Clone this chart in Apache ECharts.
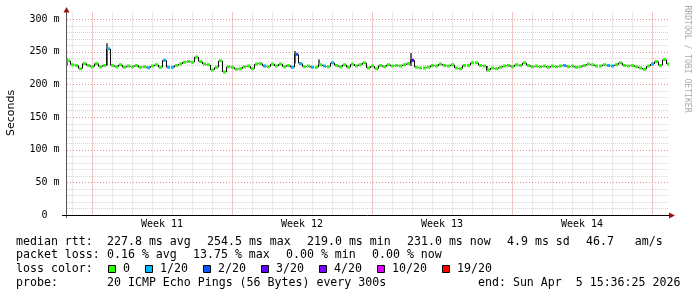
<!DOCTYPE html>
<html><head><meta charset="utf-8">
<script src="https://cdn.jsdelivr.net/npm/echarts@6/dist/echarts.min.js"></script>
<style>html,body{margin:0;padding:0;background:#fff}#c{width:697px;height:297px}</style>
</head><body><div id="c"></div>
<script>
// ---- data ----
const weekLabels = ['Week 11', 'Week 12', 'Week 13', 'Week 14'];
const weekCenters = [3.5, 10.5, 17.5, 24.5];   // days from Monday of week 11
const yTicks = [0, 50, 100, 150, 200, 250, 300];
const startDay = -1.3, stepDays = 0.2;
const medianMs = [
  236,230,229,224,232,229,227,232,227,229,
  254.5,229,227,230,226,228,227,229,226,227,
  225.5,228,230,226,237,226,226,229,231,234,
  235,234,242,235,231,230,222,226,236,219,
  227,226,223,224,227,228,224,231,232,228,
  227,231,228,231,227,229,226,246,232,227,
  228,226,226,230,228,227,233,229,227,230,
  226,231,228,230,233,225,228,224,229,227,
  230,228,229,228,230,232,237,226,225,225,
  226,229,228,231,229,228,230,225,224,229,
  229,233,233,229,228,222,225,224,226,228,
  229,227,230,229,233,229,227,228,227,228,
  226,228,227,228,229,227,228,226,227,229,
  231,230,228,228,230,229,228,230,233,229,
  228,229,227,225,223,228,231,235,229,238,
  231
];
const lossIdx = [10, 20, 24, 25, 26, 49, 56, 57, 58, 61, 64, 66, 86, 124, 135, 136, 146];
const lossVal = [1, 1, 1, 1, 1, 1, 1, 2, 1, 1, 1, 1, 3, 1, 1, 1, 1];
const smokeIdx = [0, 10, 57, 63, 86, 105];
const smokeLo = [229, 229, 232, 228, 228, 220];
const smokeHi = [240, 263, 251, 238, 248, 228];
const lossLegend = ['0', '1/20', '2/20', '3/20', '4/20', '10/20', '19/20'];
const lossLegendCount = [0, 1, 2, 3, 4, 10, 19];
const lossColors = ['#26ff00', '#00b8ff', '#0059ff', '#5e00ff', '#7e00ff', '#dd00ff', '#ff0000'];
const statsRow1 = ['median rtt:', '227.8 ms avg', '254.5 ms max', '219.0 ms min', '231.0 ms now', '4.9 ms sd', '46.7   am/s'];
const statsRow2 = ['packet loss:', '0.16 % avg', '13.75 % max', '0.00 % min', '0.00 % now'];
const probeText = ['probe:', '20 ICMP Echo Pings (56 Bytes) every 300s', 'end: Sun Apr  5 15:36:25 2026'];

// ---- build ----
function lossColor(n) {
  let c = lossColors[0];
  for (let k = 0; k < lossLegendCount.length; k++) if (n >= lossLegendCount[k]) c = lossColors[k];
  return c;
}
const loss = medianMs.map(() => 0);
lossIdx.forEach((ix, k) => { loss[ix] = lossVal[k]; });
const times = medianMs.map((_, i) => startDay + i * stepDays);
const medianData = medianMs.map((v, i) => [times[i], v, loss[i]]);
const stepData = medianMs.map((v, i) => [times[i], v, i > 0 ? medianMs[i - 1] : v]);
const smokeData = smokeIdx.map((ix, k) => [times[ix], smokeLo[k], smokeHi[k]]);

const gridData = [];
for (let d = -1; d <= 28; d++) if (d % 7 !== 0) gridData.push([0, d]);
for (let v = 10; v <= 300; v += 10) if (v % 50 !== 0) gridData.push([2, v]);
for (let d = 0; d <= 28; d += 7) gridData.push([1, d]);
for (let v = 50; v <= 300; v += 50) gridData.push([3, v]);

const MONO = '"DejaVu Sans Mono", monospace';
const minorColor = '#d4d4d4';
const majorColor = '#e09090';

const chart = echarts.init(document.getElementById('c'), null, { renderer: 'canvas' });

const graphics = [];
function txt(x, y, s, extra) {
  graphics.push(Object.assign({ type: 'text', x: x, y: y, silent: true,
    style: { text: s, font: '11.6px ' + MONO, fill: '#000', verticalAlign: 'middle' } }, extra || {}));
}
const r1x = [16, 107, 207, 307, 407, 507, 586];
statsRow1.forEach((s, k) => txt(r1x[k], 241.5, s));
const r2x = [16, 107, 193, 286, 372];
statsRow2.forEach((s, k) => txt(r2x[k], 255.3, s));
txt(16, 269, 'loss color:');
let lx = 108;
lossLegend.forEach((s, k) => {
  graphics.push({ type: 'rect', silent: true, shape: { x: lx + 0.5, y: 265.5, width: 7, height: 7 },
    style: { fill: lossColors[k], stroke: '#000', lineWidth: 1 } });
  txt(lx + 15, 269, s);
  lx += 15 + s.length * 7 + 15;
});
txt(16, 282.8, probeText[0]);
txt(107, 282.8, probeText[1]);
txt(478, 282.8, probeText[2]);
graphics.push({ type: 'text', x: 11, y: 113, rotation: Math.PI / 2, silent: true,
  style: { text: 'Seconds', font: '11px "DejaVu Sans", sans-serif', fill: '#000', align: 'center', verticalAlign: 'middle' } });
graphics.push({ type: 'text', x: 687, y: 59, rotation: -Math.PI / 2, silent: true,
  style: { text: 'RRDTOOL / TOBI OETIKER', font: '8.1px ' + MONO, fill: '#aaaaaa', align: 'center', verticalAlign: 'middle' } });
graphics.push({ type: 'line', silent: true, shape: { x1: 66.5, y1: 215, x2: 66.5, y2: 218 }, style: { stroke: '#555', lineWidth: 1 } });
graphics.push({ type: 'line', silent: true, shape: { x1: 62, y1: 215.5, x2: 66, y2: 215.5 }, style: { stroke: '#000', lineWidth: 1 } });
graphics.push({ type: 'line', silent: true, shape: { x1: 66.5, y1: 12.5, x2: 66.5, y2: 10 }, style: { stroke: '#555', lineWidth: 1 } });
graphics.push({ type: 'polygon', silent: true, shape: { points: [[63.5, 12.5], [69.5, 12.5], [66.5, 7]] }, style: { fill: '#a01010' } });
graphics.push({ type: 'polygon', silent: true, shape: { points: [[669, 212.5], [669, 218.5], [675, 215.5]] }, style: { fill: '#a01010' } });

chart.setOption({
  animation: false,
  backgroundColor: '#ffffff',
  grid: { left: 66, top: 12.5, width: 603, height: 202.5 },
  xAxis: {
    type: 'value', min: startDay, max: 28.85,
    splitLine: { show: false },
    axisTick: { show: false },
    axisLine: { show: true, onZero: false, lineStyle: { color: '#000', width: 1 } },
    axisLabel: {
      customValues: weekCenters, margin: 4,
      formatter: v => weekLabels[weekCenters.indexOf(v)] || '',
      fontFamily: MONO, fontSize: 10, color: '#000'
    }
  },
  yAxis: {
    type: 'value', min: 0, max: 310,
    splitLine: { show: false },
    axisTick: { show: false },
    axisLine: { show: true, onZero: false, lineStyle: { color: '#555', width: 1 } },
    axisLabel: {
      customValues: yTicks, margin: 6.5,
      formatter: v => v === 0 ? '0  ' : v + ' m',
      fontFamily: MONO, fontSize: 10, color: '#000'
    }
  },
  series: [
    {
      type: 'custom', name: 'grid', silent: true, z: 1, data: gridData,
      renderItem: function (params, api) {
        const kind = api.value(0), val = api.value(1);
        const cs = params.coordSys;
        const color = (kind === 1 || kind === 3) ? majorColor : minorColor;
        if (kind < 2) {
          const p = api.coord([val, 0]);
          const x = Math.round(p[0]) + 0.5;
          return { type: 'line', shape: { x1: x, y1: cs.y, x2: x, y2: cs.y + cs.height },
            style: { stroke: color, lineWidth: 1, lineDash: [1, 1] } };
        }
        const p = api.coord([0, val]);
        const y = Math.round(p[1]) + 0.5;
        return { type: 'line', shape: { x1: cs.x + 1, y1: y, x2: cs.x + cs.width, y2: y },
          style: { stroke: color, lineWidth: 1, lineDash: kind === 3 ? [1, 2] : [1, 1] } };
      }
    },
    {
      type: 'custom', name: 'smoke', silent: true, z: 2, clip: true, data: smokeData,
      renderItem: function (params, api) {
        const t = api.value(0);
        const a = api.coord([t, api.value(2)]);
        const b = api.coord([t + stepDays * 0.5, api.value(1)]);
        return { type: 'rect', shape: { x: a[0], y: a[1], width: b[0] - a[0], height: b[1] - a[1] },
          style: { fill: '#666' } };
      }
    },
    {
      type: 'custom', name: 'steps', silent: true, z: 3, clip: true, data: stepData,
      renderItem: function (params, api) {
        const t = api.value(0);
        const a = api.coord([t, api.value(2)]);
        const b = api.coord([t, api.value(1)]);
        const x = Math.round(a[0]) + 0.5;
        return { type: 'line', shape: { x1: x, y1: a[1], x2: x, y2: b[1] },
          style: { stroke: '#111', lineWidth: 1 } };
      }
    },
    {
      type: 'custom', name: 'median', silent: true, z: 4, clip: true, data: medianData,
      renderItem: function (params, api) {
        const t = api.value(0), v = api.value(1), l = api.value(2);
        const a = api.coord([t, v]);
        const b = api.coord([t + stepDays, v]);
        const x0 = Math.round(a[0]) + 1;
        return { type: 'rect', shape: { x: x0, y: a[1] - 1.5, width: Math.round(b[0]) - x0, height: 3 },
          style: { fill: lossColor(l) } };
      }
    }
  ],
  graphic: graphics
});
</script></body></html>
